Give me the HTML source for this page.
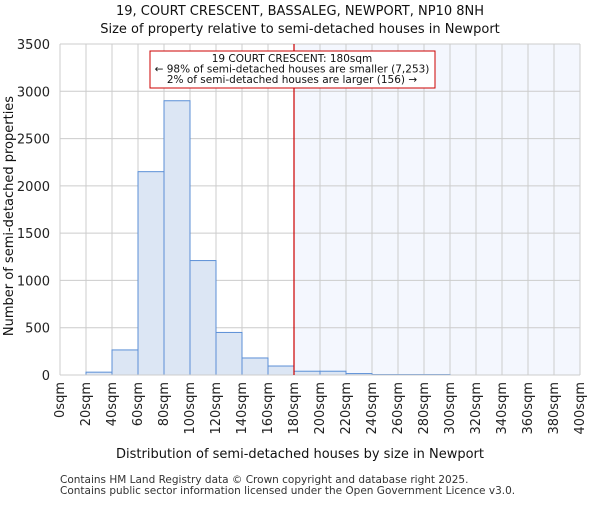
<!DOCTYPE html>
<html><head><meta charset="utf-8"><style>body{margin:0;background:#fff}svg{font-family:"DejaVu Sans","Liberation Sans",sans-serif}</style></head>
<body>
<svg id="c" width="600" height="500" xmlns="http://www.w3.org/2000/svg"></svg>
<script>
const binStarts=[0,20,40,60,80,100,120,140,160,180,200,220,240,260,280,300,320,340,360,380];
const counts=[0,30,265,2150,2900,1210,450,180,95,40,40,15,5,5,5,0,0,0,0,0];
const yTicks=[0,500,1000,1500,2000,2500,3000,3500];
const xTickLabels=["0sqm","20sqm","40sqm","60sqm","80sqm","100sqm","120sqm","140sqm","160sqm","180sqm","200sqm","220sqm","240sqm","260sqm","280sqm","300sqm","320sqm","340sqm","360sqm","380sqm","400sqm"];
const markerSize=180;
const L=60,R=580,T=44,B=375;
const xs=v=>L+(v/400)*(R-L);
const ys=v=>B-(v/3500)*(B-T);
const svg=document.getElementById('c');
const NS='http://www.w3.org/2000/svg';
function mk(tag,a,txt){const e=document.createElementNS(NS,tag);for(const k in a)e.setAttribute(k,a[k]);if(txt!=null)e.textContent=txt;svg.appendChild(e);return e;}
let e;
e=mk('rect',{x:xs(markerSize),y:T,width:R-xs(markerSize),height:B-T,fill:'#f4f7fe'});


for(let i=0;i<=20;i++){e=mk('line',{x1:xs(i*20),x2:xs(i*20),y1:T,y2:B,stroke:'#cccccc'});

}
yTicks.forEach(t=>{e=mk('line',{x1:L,x2:R,y1:ys(t),y2:ys(t),stroke:'#cccccc'});


e=mk('text',{x:L-10,y:ys(t)+5,'text-anchor':'end','font-size':13,fill:'#222'},t);

});
binStarts.forEach((s,i)=>{if(counts[i]<=0)return;
e=mk('rect',{x:xs(s),y:ys(counts[i]),width:xs(s+20)-xs(s),height:B-ys(counts[i]),fill:'#dce6f4',stroke:'#5b8fd6','stroke-width':1});

});
e=mk('line',{x1:L,x2:R,y1:B,y2:B,stroke:'#cccccc'});


e=mk('line',{x1:xs(markerSize),x2:xs(markerSize),y1:T,y2:B,stroke:'#cc0000','stroke-width':1.2});


xTickLabels.forEach((l,i)=>{const x=xs(i*20)+4;
e=mk('text',{x:x,y:382,'text-anchor':'end','font-size':13,fill:'#222',transform:`rotate(-90 ${x} 382)`},l);

});
e=mk('rect',{x:150,y:51,width:285,height:37,fill:'#fff',stroke:'#cc0000','stroke-width':1});


[["19 COURT CRESCENT: 180sqm",62],["← 98% of semi-detached houses are smaller (7,253)",72.5],["2% of semi-detached houses are larger (156) →",83]].forEach(([t,y])=>{
e=mk('text',{x:292,y:y,'text-anchor':'middle','font-size':10.5,fill:'#111'},t);

});
e=mk('text',{x:300,y:15,'text-anchor':'middle','font-size':13,fill:'#111'},"19, COURT CRESCENT, BASSALEG, NEWPORT, NP10 8NH");


e=mk('text',{x:300,y:33,'text-anchor':'middle','font-size':13,fill:'#111'},"Size of property relative to semi-detached houses in Newport");


e=mk('text',{x:300,y:458,'text-anchor':'middle','font-size':13,fill:'#111'},"Distribution of semi-detached houses by size in Newport");


e=mk('text',{x:13,y:216,'text-anchor':'middle','font-size':13,fill:'#111',transform:'rotate(-90 13 216)'},"Number of semi-detached properties");


e=mk('text',{x:60,y:483,'font-size':10.5,fill:'#333'},"Contains HM Land Registry data © Crown copyright and database right 2025.");


e=mk('text',{x:60,y:494,'font-size':10.5,fill:'#333'},"Contains public sector information licensed under the Open Government Licence v3.0.");


</script>
</body></html>
